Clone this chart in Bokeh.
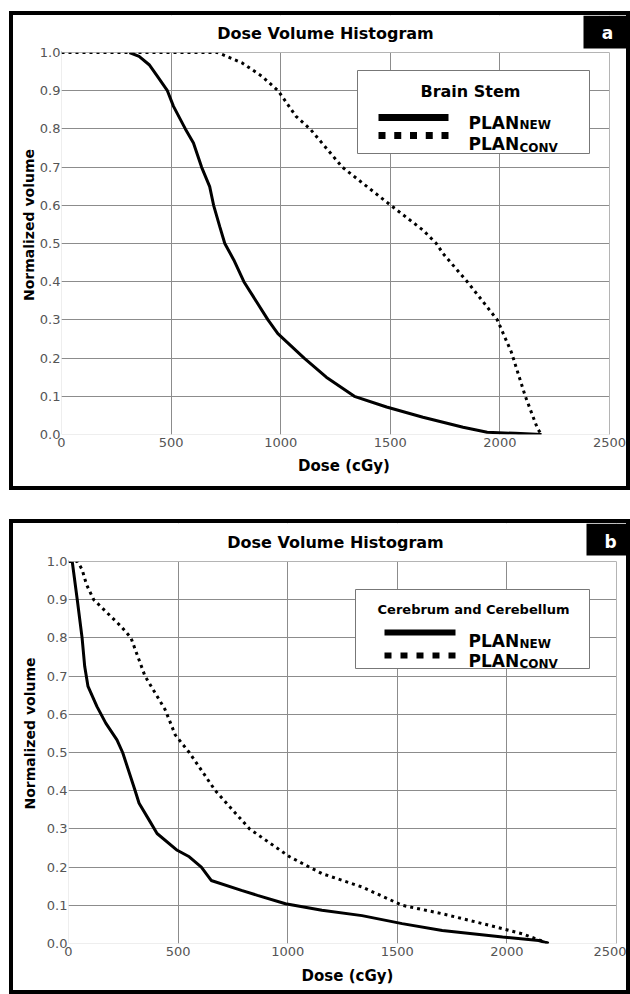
from bokeh.plotting import figure
from bokeh.models import (Range1d, FixedTicker, NumeralTickFormatter, BoxAnnotation, Label,
                          Spacer, InlineStyleSheet)
from bokeh.layouts import column, row
from bokeh.embed import file_html
from bokeh.resources import INLINE

# ---------------- data ----------------
dose_ticks = [0, 500, 1000, 1500, 2000, 2500]
volume_ticks = [0.0, 0.1, 0.2, 0.3, 0.4, 0.5, 0.6, 0.7, 0.8, 0.9, 1.0]
dose_max = 2500
volume_max = 1.0

chart_title = "Dose Volume Histogram"
x_label = "Dose (cGy)"
y_label = "Normalized volume"
series_main = "PLAN"
series_subs = ["NEW", "CONV"]

# panel a : Brain Stem
a_structure = "Brain Stem"
a_new_dose = [310, 354, 400, 437, 483, 511, 565, 602, 639, 676, 694, 722, 745, 786, 832,
              942, 987, 1107, 1208, 1336, 1483, 1649, 1832, 1942, 2071, 2190]
a_new_vol = [1.0, 0.99, 0.968, 0.938, 0.9, 0.859, 0.8, 0.763, 0.7, 0.649, 0.6, 0.544, 0.5, 0.457, 0.4,
             0.3, 0.264, 0.2, 0.15, 0.1, 0.072, 0.045, 0.019, 0.006, 0.003, 0.0]
a_conv_dose = [0, 712, 823, 914, 988, 1070, 1134, 1281, 1502, 1649, 1710, 1740, 1851, 1924,
               1988, 2052, 2116, 2172, 2190]
a_conv_vol = [1.0, 1.0, 0.973, 0.938, 0.9, 0.833, 0.8, 0.7, 0.6, 0.535, 0.5, 0.474, 0.4, 0.347,
              0.3, 0.216, 0.1, 0.015, 0.0]

# panel b : Cerebrum and Cerebellum
b_structure = "Cerebrum and Cerebellum"
b_new_dose = [17, 40, 62, 74, 89, 130, 170, 221, 247, 303, 322, 368, 404, 496, 551, 606, 651,
              789, 862, 990, 1156, 1339, 1522, 1705, 1980, 2145, 2191]
b_new_vol = [1.0, 0.9, 0.8, 0.725, 0.673, 0.62, 0.577, 0.533, 0.5, 0.402, 0.367, 0.323, 0.288,
             0.244, 0.227, 0.2, 0.165, 0.139, 0.126, 0.104, 0.087, 0.073, 0.052, 0.034, 0.017,
             0.008, 0.0]
b_conv_dose = [0, 41, 62, 82, 115, 240, 285, 349, 441, 487, 505, 551, 670, 826, 1009, 1156,
               1339, 1522, 1705, 1889, 2072, 2191]
b_conv_vol = [1.0, 1.0, 0.979, 0.94, 0.9, 0.83, 0.8, 0.7, 0.612, 0.546, 0.533, 0.5, 0.4, 0.3,
              0.227, 0.183, 0.148, 0.1, 0.078, 0.052, 0.025, 0.0]

# ---------------- layout (canvas pixels inside each figure) ----------------
FONT = "DejaVu Sans"
GRID = "#8c8c8c"
W = 613          # inner width of each framed panel
BORDER = 4       # thick black panel frame, drawn just outside each figure

# L/B: left & bottom of the data area, PT/PR: top & right of the data area
geom_a = dict(H=471, L=48, B=419, PT=37, PR=596, xstand=7, ystand=0,
              tag_box=(570, 0, 613, 33), tag_xy=(594, 17), title_xy=(312, 18),
              leg=(344, 55, 576, 138), leg_title_xy=(457, 76), leg_title_size=16,
              s_x=(365, 435), rows=(102, 120), s_h=7, sq=7, plan_x=455,
              plan_base=(107, 128), sub_x=506, sub_base=(109, 132))
geom_b = dict(H=467, L=55, B=420, PT=38, PR=603, xstand=8, ystand=6,
              tag_box=(573, 0, 613, 32), tag_xy=(597, 18), title_xy=(322, 19),
              leg=(342, 66, 576, 145), leg_title_xy=(460, 86), leg_title_size=13,
              s_x=(371, 442), rows=(109, 132), s_h=6, sq=7, plan_x=455,
              plan_base=(117, 137), sub_x=506, sub_base=(120, 140))

frame_css = InlineStyleSheet(css=(
    ":host { position: relative; }"
    ":host::after { content: ''; position: absolute; left: -4px; top: -4px; right: -4px;"
    " bottom: -4px; border: 4px solid black; pointer-events: none; z-index: 10; }"))


def add_label(p, g, cx, cy, text, size, color="black", align="left", baseline="alphabetic", bold=True):
    p.add_layout(Label(x=cx - g["L"], y=g["B"] - cy, x_units="screen", y_units="screen",
                       text=text, text_font=FONT, text_font_size=f"{size}px",
                       text_font_style="bold" if bold else "normal", text_color=color,
                       text_align=align, text_baseline=baseline))


def add_box(p, l, t, r, b, fill=None, line=None, lw=1):
    p.add_layout(BoxAnnotation(left=l, right=r, top=t, bottom=b,
                               left_units="canvas", right_units="canvas",
                               top_units="canvas", bottom_units="canvas",
                               fill_color=fill if fill else "white", fill_alpha=1 if fill else 0,
                               line_color=line if line else "black", line_alpha=1 if line else 0,
                               line_width=lw))


def panel(tag, structure, new_dose, new_vol, conv_dose, conv_vol, g):
    H, L, B, PT, PR = g["H"], g["L"], g["B"], g["PT"], g["PR"]
    # the frame spans the whole upper band so that title and tag can be drawn in it
    x_end = dose_max * (W - L) / (PR - L)
    y_end = volume_max * B / (B - PT)
    p = figure(width=W, height=H, x_range=Range1d(0, x_end), y_range=Range1d(0, y_end),
               output_backend="svg", toolbar_location=None, min_border=0,
               styles={"outline": f"{BORDER}px solid black"},
               stylesheets=[frame_css])
    p.min_border_left = L
    p.min_border_top = 0
    p.min_border_right = 0
    p.min_border_bottom = H - B
    p.background_fill_color = "white"
    p.border_fill_color = "white"
    p.outline_line_color = None

    p.xaxis.ticker = FixedTicker(ticks=dose_ticks)
    p.yaxis.ticker = FixedTicker(ticks=volume_ticks)
    p.xaxis.bounds = (0, dose_max)
    p.yaxis.bounds = (0, volume_max)
    p.xaxis.formatter = NumeralTickFormatter(format="0")
    p.yaxis.formatter = NumeralTickFormatter(format="0.0")
    for ax in (p.xaxis, p.yaxis):
        ax.axis_line_color = None
        ax.major_tick_line_color = None
        ax.minor_tick_line_color = None
        ax.major_tick_in = 0
        ax.major_tick_out = 0
        ax.major_label_text_font = FONT
        ax.major_label_text_font_size = "13px"
        ax.major_label_text_color = "#555555"
        ax.axis_label_text_font = FONT
        ax.axis_label_text_font_style = "bold"
        ax.axis_label_text_color = "black"
    p.xaxis.major_label_standoff = 3
    p.yaxis.major_label_standoff = 1
    p.xaxis.axis_label = x_label
    p.yaxis.axis_label = y_label
    p.xaxis.axis_label_text_font_size = "15px"
    p.yaxis.axis_label_text_font_size = "14px"
    p.xaxis.axis_label_standoff = g["xstand"]
    p.yaxis.axis_label_standoff = g["ystand"]

    for gr in (p.xgrid, p.ygrid):
        gr.grid_line_color = GRID
        gr.grid_line_width = 1

    p.line(new_dose, new_vol, line_color="black", line_width=3)
    p.line(conv_dose, conv_vol, line_color="black", line_width=3, line_dash="3 4")

    # blank the band above / right of the data area, then draw the data-area box
    p.add_layout(BoxAnnotation(bottom=volume_max, fill_color="white", fill_alpha=1,
                               line_alpha=0))
    p.add_layout(BoxAnnotation(left=dose_max, fill_color="white", fill_alpha=1, line_alpha=0))
    p.add_layout(BoxAnnotation(left=0, right=dose_max, bottom=0, top=volume_max,
                               fill_alpha=0, line_color=GRID, line_width=1))

    # tag box
    add_box(p, *g["tag_box"], fill="black")
    add_label(p, g, g["tag_xy"][0], g["tag_xy"][1], tag, 17, color="white",
              align="center", baseline="middle")

    # title
    add_label(p, g, g["title_xy"][0], g["title_xy"][1], chart_title, 16,
              align="center", baseline="middle")

    # legend
    ll, lt, lr, lb = g["leg"]
    add_box(p, ll, lt, lr, lb, fill="white", line="#777777", lw=1)
    add_label(p, g, g["leg_title_xy"][0], g["leg_title_xy"][1], structure,
              g["leg_title_size"], align="center", baseline="middle")
    x0, x1 = g["s_x"]
    y_solid, y_dot = g["rows"]
    h = g["s_h"]
    add_box(p, x0, y_solid - h / 2, x1, y_solid + h / 2, fill="black")
    sq = g["sq"]
    step = (x1 - x0 - sq) / 4
    for i in range(5):
        sx = x0 + i * step
        add_box(p, sx, y_dot - h / 2, sx + sq, y_dot + h / 2, fill="black")
    for k in range(2):
        add_label(p, g, g["plan_x"], g["plan_base"][k], series_main, 17)
        add_label(p, g, g["sub_x"], g["sub_base"][k], series_subs[k], 12)
    return p


pa = panel("a", a_structure, a_new_dose, a_new_vol, a_conv_dose, a_conv_vol, geom_a)
pb = panel("b", b_structure, b_new_dose, b_new_vol, b_conv_dose, b_conv_vol, geom_b)

layout = column(Spacer(width=630, height=15),
                row(Spacer(width=13, height=geom_a["H"]), pa, Spacer(width=4, height=geom_a["H"])),
                Spacer(width=630, height=37),
                row(Spacer(width=13, height=geom_b["H"]), pb, Spacer(width=4, height=geom_b["H"])))
open("out.html", "w").write(file_html(layout, INLINE))
